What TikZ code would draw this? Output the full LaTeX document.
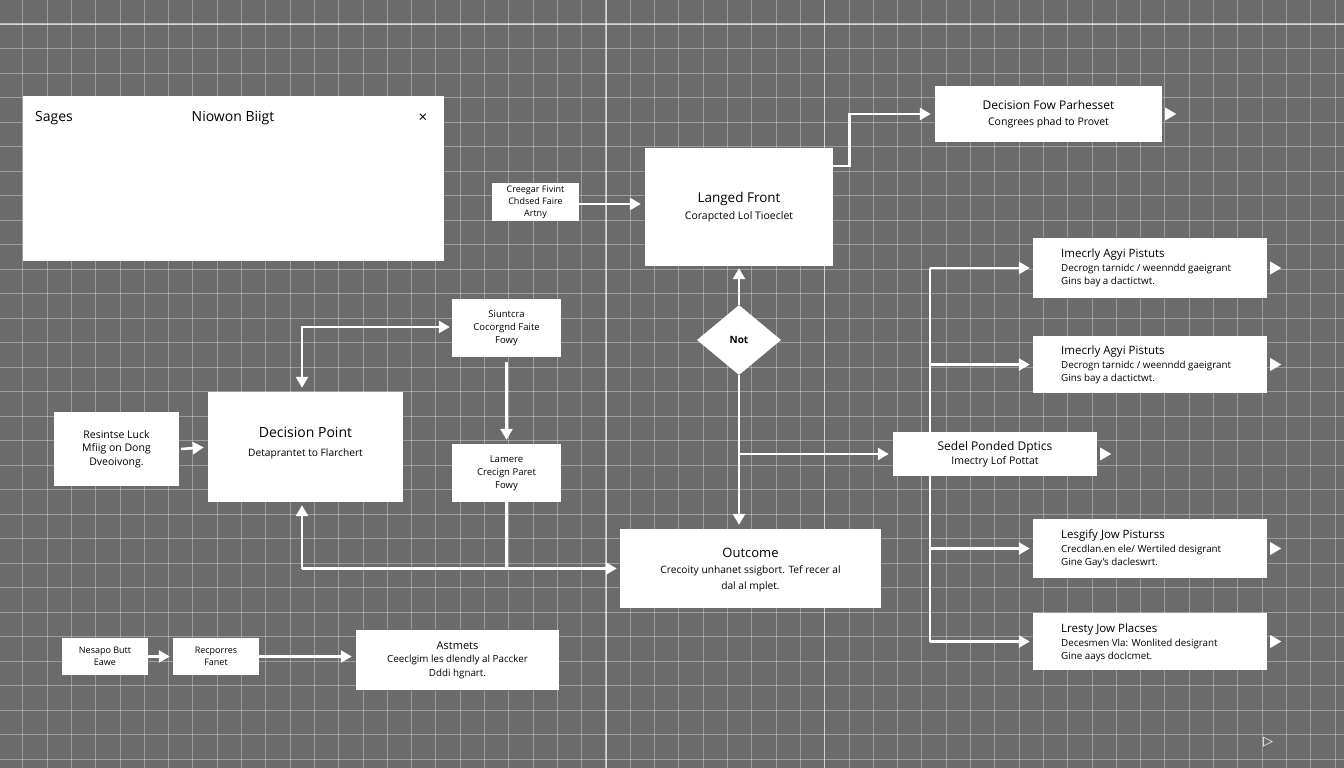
\documentclass[tikz,border=0pt]{standalone}
\usepackage{fontspec}
\setmainfont{Open Sans}
\newfontfamily\symfont{DejaVu Sans}
\usetikzlibrary{arrows.meta,shapes.geometric}
\newcommand\fsz[2]{\fontsize{#1pt}{#2pt}\selectfont}
\definecolor{bggray}{HTML}{6B6B6B}
\pgfdeclarelayer{gridlayer}
\pgfdeclarelayer{linelayer}
\pgfsetlayers{gridlayer,linelayer,main}
\tikzset{
  box/.style={draw=none, fill=white, inner sep=2pt, align=center, text=black},
  lbl/.style={inner sep=0pt, text=black},
  arr/.style={draw=white, line width=2.6pt, -{Triangle[length=11pt,width=12pt]}},
  arrboth/.style={draw=white, line width=2.6pt, {Triangle[length=11pt,width=12pt]}-{Triangle[length=11pt,width=12pt]}},
  plain/.style={draw=white, line width=2.6pt},
  gridminor/.style={draw=white, draw opacity=0.34, line width=0.9pt},
  gridmajor/.style={draw=white, draw opacity=0.55, line width=1.2pt},
}
\newcommand\tri[1]{\fill[white] ([xshift=3pt,yshift=6.5pt]#1.east) -- ([xshift=14pt]#1.east) -- ([xshift=3pt,yshift=-6.5pt]#1.east) -- cycle;}
\begin{document}
\begin{tikzpicture}[x=1pt,y=-1pt]
\useasboundingbox (0,0) rectangle (1344,768);
\begin{pgfonlayer}{gridlayer}
  \fill[bggray] (0,0) rectangle (1344,768);
  \foreach \i in {0,...,54} {\draw[gridminor] ({22.8+\i*24.3},0) -- ({22.8+\i*24.3},768);}
  \foreach \j in {0,...,30} {\draw[gridminor] (0,{24+\j*24.5}) -- (1344,{24+\j*24.5});}
  \foreach \i in {24,33} {\draw[gridmajor] ({22.8+\i*24.3},0) -- ({22.8+\i*24.3},768);}
  \draw[gridmajor] (0,24) -- (1344,24);
\end{pgfonlayer}

% top-left panel
\node[box, minimum width=421, minimum height=165] (panel) at (233.5,178.5) {};
\node[lbl, anchor=west] (sages) at (35,118) {\fsz{14}{16}Sages};
\node[lbl] (niowon) at (233,118) {\fsz{14}{16}Niowon Biigt};
\node[lbl] (close) at (423,118) {\fsz{15}{16}×};

% top middle
\node[box, font=\fsz{9}{12}, minimum width=87, minimum height=38] (creegar) at (535.5,202) {Creegar Fivint\\Chdsed Faire\\Artny};
\node[box, font=\fsz{10.5}{17}, minimum width=188, minimum height=118] (langed) at (739,207) {\fsz{13.5}{18}Langed Front\\Corapcted Lol Tioeclet};
\node[box, font=\fsz{10.5}{16}, minimum width=227, minimum height=56] (decfow) at (1048.5,114) {\fsz{12}{15}Decision Fow Parhesset\\Congrees phad to Provet};
\node[box, diamond, aspect=1.2, inner sep=0pt, minimum width=84, minimum height=70, font=\fsz{10}{11}] (dia) at (739,340) {\textbf{Not}};

% right column
\node[box, minimum width=234, minimum height=60] (ba) at (1150,268) {};
\node[lbl, anchor=west, align=left, font=\fsz{9.8}{13.5}] (bat) at (1061,268) {\fsz{11.5}{13}Imecrly Agyi Pistuts\\Decrogn tarnidc / weenndd gaeigrant\\Gins bay a dactictwt.};
\node[box, minimum width=234, minimum height=57] (bb) at (1150,364.5) {};
\node[lbl, anchor=west, align=left, font=\fsz{9.8}{13.5}] (bbt) at (1061,365) {\fsz{11.5}{13}Imecrly Agyi Pistuts\\Decrogn tarnidc / weenndd gaeigrant\\Gins bay a dactictwt.};
\node[box, font=\fsz{10.5}{14}, minimum width=204, minimum height=44] (sedel) at (995,454) {\fsz{12}{13}Sedel Ponded Dptics\\Imectry Lof Pottat};
\node[box, minimum width=234, minimum height=59] (bc) at (1150,548.5) {};
\node[lbl, anchor=west, align=left, font=\fsz{9.8}{13.5}] (bct) at (1061,549) {\fsz{11.5}{13}Lesgify Jow Pisturss\\Crecdlan.en ele/ Wertiled desigrant\\Gine Gay's dacleswrt.};
\node[box, minimum width=234, minimum height=57] (bd) at (1150,641.5) {};
\node[lbl, anchor=west, align=left, font=\fsz{9.8}{13.5}] (bdt) at (1061,643) {\fsz{11.5}{13}Lresty Jow Placses\\Decesmen Vla: Wonlited desigrant\\Gine aays doclcmet.};

% middle left
\node[box, font=\fsz{10.5}{13.5}, minimum width=125, minimum height=74] (resin) at (116.5,449) {Resintse Luck\\Mfiig on Dong\\Dveoivong.};
\node[box, minimum width=195, minimum height=110] (dp) at (305.5,447) {};
\node[lbl, align=center, font=\fsz{10.2}{19}] (dpt) at (305.5,443) {\fsz{14}{18}Decision Point\\Detaprantet to Flarchert};
\node[box, font=\fsz{9.5}{13}, minimum width=109, minimum height=58] (summa) at (506.5,328) {Siuntcra\\Cocorgnd Faite\\Fowy};
\node[box, font=\fsz{9.5}{13}, minimum width=109, minimum height=58] (lamera) at (506.5,473) {Lamere\\Crecign Paret\\Fowy};
\node[box, minimum width=261, minimum height=79] (outcome) at (750.5,568.5) {};
\node[lbl, align=center, font=\fsz{10.2}{16}] (outt) at (750.5,570) {\fsz{13}{17}Outcome\\Crecoity unhanet ssigbort. Tef recer al\\dal al mplet.};

% bottom
\node[box, font=\fsz{9}{12}, minimum width=86, minimum height=37] (nesapo) at (105,656.5) {Nesapo Butt\\Eawe};
\node[box, font=\fsz{9}{12}, minimum width=86, minimum height=37] (recp) at (216,656.5) {Recporres\\Fanet};
\node[box, font=\fsz{9.8}{13.5}, minimum width=203, minimum height=60] (astm) at (457.5,660) {\fsz{11}{13.5}Astmets\\Ceeclgim les dlendly al Paccker\\Dddi hgnart.};

\node[lbl, text=white] (play) at (1268,742) {\symfont\fsz{13}{14}▷};

\coordinate (spine) at (930,0);

\begin{pgfonlayer}{linelayer}
  \draw[arr, shorten >=4pt] ([yshift=-2pt]creegar.east) -- ([yshift=-2pt]creegar.east -| langed.west);
  \draw[arr, shorten >=4pt] ([yshift=-18pt]langed.north east) -- ++(16,0) |- (decfow.west);
  \draw[arr, shorten >=2pt] (dia.north) -- (langed.south);
  \draw[arr, shorten >=4pt] (dia.south) -- (dia.south |- outcome.north);
  \draw[arr, shorten >=4pt] (dia.south |- sedel.west) -- (sedel.west);
  \draw[plain] (spine |- ba.west) -- (spine |- bd.west);
  \draw[arr, shorten >=3pt] (spine |- ba.west) -- (ba.west);
  \draw[arr, shorten >=3pt] (spine |- bb.west) -- (bb.west);
  \draw[arr, shorten >=3pt] (spine |- bc.west) -- (bc.west);
  \draw[arr, shorten >=3pt] (spine |- bd.west) -- (bd.west);
  \draw[arr, shorten >=4pt] ([xshift=2pt]resin.east) -- (dp.west);
  \draw[arrboth, shorten >=4pt, shorten <=2pt] ([yshift=1pt]summa.west) -| ([xshift=-3.5pt]dp.north);
  \draw[arr, shorten >=4pt, shorten <=5pt] (summa.south) -- (lamera.north);
  \draw[plain] (lamera.south) -- (lamera.south |- outcome.west);
  \draw[arr, shorten >=3pt] ([xshift=-3.5pt]dp.south |- outcome.west) -- (outcome.west);
  \draw[arr, shorten >=3pt] ([xshift=-3.5pt]dp.south |- outcome.west) -- ([xshift=-3.5pt]dp.south);
  \draw[arr, shorten >=3pt] (nesapo.east) -- (recp.west);
  \draw[arr, shorten >=4pt] (recp.east) -- (recp.east -| astm.west);
\end{pgfonlayer}

\tri{decfow}
\tri{ba}
\tri{bb}
\tri{sedel}
\tri{bc}
\tri{bd}
\end{tikzpicture}
\end{document}
